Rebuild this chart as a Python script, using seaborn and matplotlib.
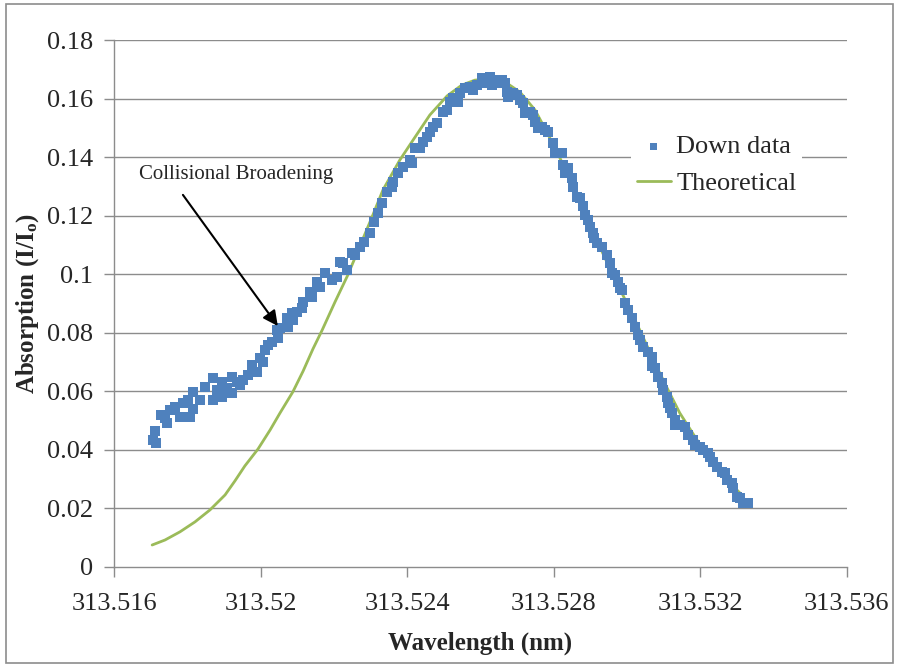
import numpy as np
import pandas as pd
import matplotlib
matplotlib.use("Agg")
import matplotlib.pyplot as plt
import seaborn as sns
from matplotlib.patches import Rectangle

down_wl = [
    313.51706, 313.51712, 313.51715, 313.51728, 313.51739, 313.51745, 313.51753, 313.51766,
    313.51780, 313.51788, 313.51802, 313.51807, 313.51816, 313.51816, 313.51835, 313.51848,
    313.51870, 313.51870, 313.51881, 313.51895, 313.51895, 313.51908, 313.51922, 313.51922,
    313.51936, 313.51944, 313.51952, 313.51966, 313.51977, 313.51990, 313.51998, 313.52007,
    313.52012, 313.52020, 313.52031, 313.52045, 313.52047, 313.52053, 313.52072, 313.52075,
    313.52086, 313.52088, 313.52099, 313.52113, 313.52116, 313.52135, 313.52140, 313.52154,
    313.52162, 313.52176, 313.52195, 313.52208, 313.52217, 313.52225, 313.52236, 313.52249,
    313.52258, 313.52271, 313.52282, 313.52298, 313.52309, 313.52320, 313.52331, 313.52345,
    313.52359, 313.52361, 313.52375, 313.52389, 313.52408, 313.52413, 313.52421, 313.52435,
    313.52443, 313.52454, 313.52462, 313.52470, 313.52481, 313.52498, 313.52509, 313.52517,
    313.52525, 313.52539, 313.52544, 313.52558, 313.52571, 313.52580, 313.52590, 313.52604,
    313.52607, 313.52618, 313.52626, 313.52631, 313.52640, 313.52648, 313.52659, 313.52667,
    313.52672, 313.52675, 313.52689, 313.52700, 313.52708, 313.52716, 313.52721, 313.52735,
    313.52743, 313.52749, 313.52757, 313.52768, 313.52776, 313.52784, 313.52798, 313.52803,
    313.52822, 313.52825, 313.52831, 313.52839, 313.52850, 313.52852, 313.52863, 313.52871,
    313.52880, 313.52885, 313.52893, 313.52899, 313.52907, 313.52910, 313.52918, 313.52932,
    313.52945, 313.52953, 313.52959, 313.52967, 313.52975, 313.52981, 313.52986, 313.52994,
    313.53002, 313.53013, 313.53022, 313.53030, 313.53035, 313.53043, 313.53057, 313.53068,
    313.53068, 313.53076, 313.53084, 313.53095, 313.53098, 313.53109, 313.53112, 313.53117,
    313.53123, 313.53131, 313.53131, 313.53144, 313.53158, 313.53166, 313.53180, 313.53185,
    313.53199, 313.53207, 313.53221, 313.53226, 313.53234, 313.53245, 313.53259, 313.53267,
    313.53273, 313.53286, 313.53289, 313.53300, 313.53308, 313.53316, 313.53330,
]
down_abs = [
    0.0434, 0.0465, 0.0424, 0.0519, 0.0509, 0.0492, 0.0536, 0.0546,
    0.0512, 0.0560, 0.0570, 0.0512, 0.0540, 0.0598, 0.0570, 0.0615,
    0.0570, 0.0646, 0.0605, 0.0632, 0.0581, 0.0611, 0.0594, 0.0649,
    0.0632, 0.0622, 0.0639, 0.0656, 0.0690, 0.0666, 0.0714, 0.0700,
    0.0741, 0.0758, 0.0769, 0.0809, 0.0782, 0.0816, 0.0850, 0.0820,
    0.0868, 0.0844, 0.0871, 0.0885, 0.0905, 0.0939, 0.0922, 0.0973,
    0.0956, 0.1004, 0.0980, 0.0991, 0.1042, 0.1038, 0.1014, 0.1073,
    0.1066, 0.1093, 0.1110, 0.1141, 0.1178, 0.1209, 0.1243, 0.1281,
    0.1298, 0.1315, 0.1346, 0.1366, 0.1390, 0.1380, 0.1431, 0.1431,
    0.1452, 0.1469, 0.1486, 0.1503, 0.1517, 0.1554, 0.1561, 0.1588,
    0.1602, 0.1588, 0.1619, 0.1636, 0.1639, 0.1629, 0.1646, 0.1670,
    0.1653, 0.1663, 0.1674, 0.1646, 0.1663, 0.1653, 0.1663, 0.1653,
    0.1622, 0.1605, 0.1619, 0.1612, 0.1595, 0.1585, 0.1551, 0.1554,
    0.1544, 0.1520, 0.1499, 0.1503, 0.1493, 0.1486, 0.1448, 0.1414,
    0.1414, 0.1373, 0.1346, 0.1363, 0.1329, 0.1298, 0.1264, 0.1260,
    0.1233, 0.1202, 0.1185, 0.1161, 0.1141, 0.1124, 0.1107, 0.1093,
    0.1066, 0.1038, 0.1004, 0.0997, 0.0973, 0.0953, 0.0946, 0.0902,
    0.0878, 0.0850, 0.0820, 0.0792, 0.0775, 0.0751, 0.0734, 0.0717,
    0.0687, 0.0680, 0.0649, 0.0628, 0.0605, 0.0581, 0.0560, 0.0543,
    0.0526, 0.0502, 0.0485, 0.0485, 0.0478, 0.0451, 0.0434, 0.0417,
    0.0410, 0.0400, 0.0389, 0.0376, 0.0359, 0.0342, 0.0324, 0.0321,
    0.0297, 0.0287, 0.0270, 0.0239, 0.0236, 0.0219, 0.0219,
]

# theoretical profile
theo_wl = [
    313.51704, 313.51739, 313.51780, 313.51821, 313.51862, 313.51903, 313.51930, 313.51957,
    313.51993, 313.52026, 313.52053, 313.52088, 313.52116, 313.52143, 313.52168, 313.52203,
    313.52238, 313.52271, 313.52304, 313.52334, 313.52380, 313.52416, 313.52462, 313.52509,
    313.52549, 313.52585, 313.52620, 313.52667, 313.52708, 313.52749, 313.52784, 313.52817,
    313.52858, 313.52899, 313.52940, 313.52986, 313.53035, 313.53076, 313.53112, 313.53144,
    313.53191, 313.53232, 313.53267, 313.53308,
]
theo_abs = [
    0.0075, 0.0092, 0.0120, 0.0154, 0.0195, 0.0246, 0.0294, 0.0345,
    0.0403, 0.0468, 0.0526, 0.0598, 0.0669, 0.0745, 0.0809, 0.0905,
    0.0997, 0.1096, 0.1195, 0.1288, 0.1390, 0.1458, 0.1544, 0.1609,
    0.1646, 0.1663, 0.1667, 0.1657, 0.1622, 0.1561, 0.1479, 0.1397,
    0.1288, 0.1168, 0.1055, 0.0936, 0.0809, 0.0697, 0.0605, 0.0526,
    0.0434, 0.0359, 0.0304, 0.0253,
]

x_ticks = [313.516, 313.52, 313.524, 313.528, 313.532, 313.536]
x_tick_labels = ["313.516", "313.52", "313.524", "313.528", "313.532", "313.536"]
y_ticks = [0, 0.02, 0.04, 0.06, 0.08, 0.1, 0.12, 0.14, 0.16, 0.18]
y_tick_labels = ["0", "0.02", "0.04", "0.06", "0.08", "0.1", "0.12", "0.14", "0.16", "0.18"]

down = pd.DataFrame({"wl": down_wl, "a": down_abs})
theo = pd.DataFrame({"wl": theo_wl, "a": theo_abs})

sns.set_style("white")
plt.rcParams["font.family"] = ["Liberation Serif", "DejaVu Serif"]
plt.rcParams["mathtext.default"] = "regular"

fig = plt.figure(figsize=(8.98, 6.67), dpi=100)
ax = fig.add_axes([0.127, 0.150, 0.816, 0.790])

grid_col = "#8c8c8c"
for y in y_ticks[1:]:
    ax.axhline(y, color=grid_col, lw=1.0, zorder=0)

sns.lineplot(data=theo, x="wl", y="a", sort=False, color="#9BBB59", lw=2.0,
             ax=ax, label="Theoretical", zorder=2)
sns.scatterplot(data=down, x="wl", y="a", marker="s", s=55, color="#4F81BD",
                edgecolor="none", linewidth=0, ax=ax, label="Down data", zorder=3)

ax.set_xlim(313.516, 313.536)
ax.set_ylim(0, 0.18)
ax.set_xticks(x_ticks)
ax.set_xticklabels(x_tick_labels)
ax.set_yticks(y_ticks)
ax.set_yticklabels(y_tick_labels)
ax.tick_params(axis="both", labelsize=19, direction="out", length=7, width=1,
               color=grid_col, left=True, bottom=True)
ax.tick_params(axis="x", pad=12)
ax.tick_params(axis="y", pad=8)

for side in ["top", "right"]:
    ax.spines[side].set_visible(False)
for side in ["left", "bottom"]:
    ax.spines[side].set_color(grid_col)
    ax.spines[side].set_linewidth(1)

ax.set_xlabel("Wavelength (nm)", fontsize=18, fontweight="bold", labelpad=12)
ax.set_ylabel("Absorption (I/I$_o$)", fontsize=18, fontweight="bold", labelpad=4)

# annotation: text and arrow drawn separately, like the original callout
ax.text(313.51668, 0.1339, "Collisional Broadening", fontsize=15,
        ha="left", va="center")
ax.annotate("", xy=(313.52047, 0.0823), xytext=(313.51788, 0.1271),
            arrowprops=dict(arrowstyle="-|>,head_length=0.9,head_width=0.45",
                            color="black", lw=1.5, shrinkA=0, shrinkB=0))

handles, labels = ax.get_legend_handles_labels()
order = [labels.index("Down data"), labels.index("Theoretical")]
leg = ax.legend([handles[i] for i in order], [labels[i] for i in order],
                loc="upper left", bbox_to_anchor=(0.688, 0.855), frameon=True,
                fontsize=19, handlelength=1.3, handletextpad=0.2,
                borderpad=0.2, labelspacing=0.5, markerscale=0.7)
leg.get_frame().set_facecolor("white")
leg.get_frame().set_edgecolor("none")
leg.get_frame().set_alpha(1)

fig.patches.append(Rectangle((0.007, 0.006), 0.987, 0.988, transform=fig.transFigure,
                             fill=False, edgecolor="#8c8c8c", lw=1.2))

fig.savefig("out.png", dpi=100)
